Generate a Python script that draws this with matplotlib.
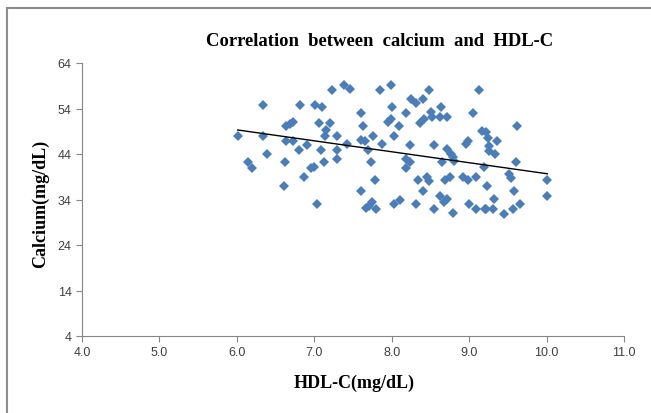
import numpy as np
import matplotlib
matplotlib.use('Agg')
import matplotlib.pyplot as plt
from matplotlib.patches import Rectangle

# HDL-C vs calcium values
hdl = [6.01, 6.34, 6.34, 6.39, 6.15, 6.19, 6.61, 6.62, 6.63, 6.64, 6.68, 6.73,
       6.72, 6.81, 6.80, 6.91, 6.87, 7.03, 6.96, 7.00, 7.01, 7.10, 7.06, 7.20,
       7.15, 7.14, 7.09, 7.12, 7.29, 7.29, 7.29, 7.23, 7.39, 7.46, 7.42,
       7.85, 7.99, 7.60, 7.63, 7.60, 7.65, 7.69, 7.76, 7.73, 7.78, 7.60, 7.67,
       7.71, 7.75, 7.80, 7.88, 7.95, 7.99, 8.01, 8.03, 8.09, 8.03, 8.11, 8.19,
       8.24, 8.19, 8.23, 8.19, 8.25, 8.31, 8.40, 8.48, 8.37, 8.42, 8.51, 8.52,
       8.64, 8.62, 8.72, 8.54, 8.34, 8.40, 8.45, 8.48, 8.32, 8.54, 8.62, 8.67,
       8.72, 8.79, 8.69, 8.75, 8.71, 8.77, 8.65, 8.81, 8.79, 8.92, 8.98, 9.00,
       9.09, 8.98, 8.96, 9.05, 9.13, 9.09, 9.17, 9.20,
       9.22, 9.24, 9.26, 9.25, 9.36, 9.34, 9.62, 9.61, 9.52, 9.54, 9.23, 9.58,
       9.32, 9.22, 9.31, 9.45, 9.56, 9.66, 10.01, 10.01, 9.19]
calcium = [48.0, 54.8, 48.0, 44.0, 42.2, 40.9, 37.0, 42.2, 46.9, 50.1, 50.6, 51.1,
           46.9, 54.8, 44.9, 46.0, 38.9, 33.0, 40.9, 41.2, 54.8, 54.3, 50.8, 50.8,
           49.3, 48.0, 44.9, 42.2, 48.0, 44.9, 42.9, 58.1, 59.2, 58.3, 46.2,
           58.1, 59.2, 53.0, 50.1, 47.1, 46.9, 44.9, 48.0, 42.2, 38.2, 35.9, 32.1,
           32.6, 33.4, 31.9, 46.2, 51.0, 51.7, 54.3, 48.0, 50.1, 33.0, 33.9, 53.0,
           46.0, 42.9, 42.2, 40.9, 56.1, 55.2, 56.1, 58.1, 50.8, 51.8, 53.2, 52.1,
           54.3, 52.1, 52.1, 46.0, 38.2, 35.9, 39.0, 38.0, 33.0, 31.9, 34.8, 33.4,
           34.1, 31.0, 38.2, 39.0, 45.1, 44.1, 42.2, 42.4, 43.3, 39.0, 38.2, 33.0,
           31.9, 46.9, 46.2, 53.0, 58.1, 38.9, 49.1, 31.9,
           48.8, 47.6, 45.8, 44.7, 46.9, 44.0, 50.1, 42.2, 39.6, 38.7, 37.0, 35.9,
           34.1, 31.9, 31.9, 30.8, 31.9, 33.0, 38.2, 34.8, 41.1]

x_ticks = [4.0, 5.0, 6.0, 7.0, 8.0, 9.0, 10.0, 11.0]
y_ticks = [4, 14, 24, 34, 44, 54, 64]

grey = '#868686'
blue = '#4a7ebb'

fig = plt.figure(figsize=(6.51, 4.14), dpi=100)
ax = fig.add_axes([82/651, 1 - 337/414, (624 - 82)/651, (337 - 64)/414])

ax.plot(hdl, calcium, linestyle='none', marker='D', ms=5.6, color=blue,
        markeredgewidth=0)

# linear trendline
x = np.array(hdl)
m, b = np.polyfit(x, calcium, 1)
xs = np.array([x.min(), x.max()])
ax.plot(xs, m * xs + b, color='black', lw=1)

ax.set_xlim(4, 11)
ax.set_ylim(4, 64)
ax.set_xticks(x_ticks)
ax.set_xticklabels(['%.1f' % t for t in x_ticks])
ax.set_yticks(y_ticks)
for s in ['top', 'right']:
    ax.spines[s].set_visible(False)
for s in ['left', 'bottom']:
    ax.spines[s].set_color(grey)
ax.tick_params(colors=grey, length=4, labelcolor='#404040', labelsize=9)
for lab in ax.get_xticklabels() + ax.get_yticklabels():
    lab.set_family('Liberation Sans')

fig.text(380/651, 1 - 42/414, 'Correlation  between  calcium  and  HDL-C',
         ha='center', va='center', family='Liberation Serif',
         fontweight='bold', fontsize=13.4)
fig.text(354/651, 1 - 383/414, 'HDL-C(mg/dL)', ha='center', va='center',
         family='Liberation Serif', fontweight='bold', fontsize=13)
fig.text(40/651, 1 - 204/414, 'Calcium(mg/dL)', ha='center', va='center',
         rotation=90, family='Liberation Serif', fontweight='bold', fontsize=13)

# outer chart frame
fig.patches.append(Rectangle((7/651, -0.1), 1.2, 1 - 9/414 + 0.1,
                             transform=fig.transFigure, fill=False,
                             edgecolor='#8c8c8c', lw=1.5))

fig.savefig('out.png', dpi=100)
